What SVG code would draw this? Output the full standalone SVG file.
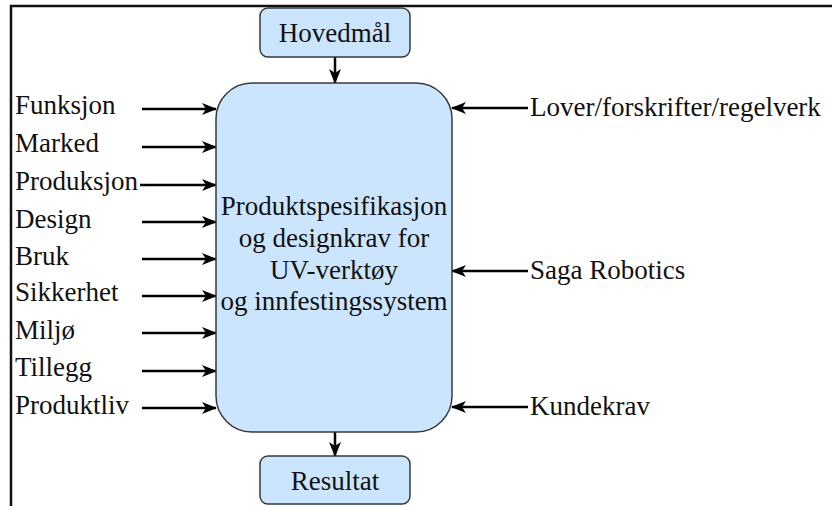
<svg xmlns="http://www.w3.org/2000/svg" width="832" height="506" viewBox="0 0 832 506">
<defs>
<marker id="ah" markerUnits="userSpaceOnUse" markerWidth="15" markerHeight="12" viewBox="0 0 15 12" refX="14" refY="6" orient="auto">
<path d="M0,0 L15,6 L0,12 L4,6 Z" fill="#000"/>
</marker>
</defs>
<style>
.box{fill:#cce5ff;stroke:#36393d;stroke-width:1.5}
.t{font-family:"Liberation Serif","Times New Roman",serif;font-size:27px;fill:#111}
.c{text-anchor:middle}
.e{stroke:#000;stroke-width:2.5;fill:none;marker-end:url(#ah)}
</style>
<rect width="832" height="506" fill="#fff"/>
<path d="M11,506 L11,6 L832,6" fill="none" stroke="#111" stroke-width="2.5"/>
<g id="connectors">
<line class="e" x1="335" y1="57" x2="335" y2="83"/>
<line class="e" x1="335" y1="432" x2="335" y2="456"/>
<line class="e" x1="142" y1="109" x2="216" y2="109"/>
<line class="e" x1="142" y1="147" x2="216" y2="147"/>
<line class="e" x1="140" y1="185" x2="216" y2="185"/>
<line class="e" x1="142" y1="222" x2="216" y2="222"/>
<line class="e" x1="142" y1="259" x2="216" y2="259"/>
<line class="e" x1="142" y1="296" x2="216" y2="296"/>
<line class="e" x1="142" y1="333" x2="216" y2="333"/>
<line class="e" x1="142" y1="371" x2="216" y2="371"/>
<line class="e" x1="142" y1="408" x2="216" y2="408"/>
<line class="e" x1="528" y1="108" x2="452" y2="108"/>
<line class="e" x1="528" y1="271" x2="452" y2="271"/>
<line class="e" x1="528" y1="407" x2="452" y2="407"/>
</g>
<g id="hovedmal">
<rect class="box" x="260" y="8" width="150" height="49" rx="8"/>
<text class="t c" x="335" y="42">Hovedmål</text>
</g>
<g id="main">
<rect class="box" x="216" y="83" width="236" height="349" rx="36"/>
<text class="t c" x="334" y="215">Produktspesifikasjon</text>
<text class="t c" x="334" y="247">og designkrav for</text>
<text class="t c" x="334" y="279">UV-verktøy</text>
<text class="t c" x="334" y="310">og innfestingssystem</text>
</g>
<g id="resultat">
<rect class="box" x="260" y="456" width="150" height="48" rx="8"/>
<text class="t c" x="335" y="490">Resultat</text>
</g>
<g id="labels-left">
<text class="t" x="15" y="114">Funksjon</text>
<text class="t" x="15" y="152">Marked</text>
<text class="t" x="15" y="190">Produksjon</text>
<text class="t" x="15" y="228">Design</text>
<text class="t" x="15" y="265">Bruk</text>
<text class="t" x="15" y="301">Sikkerhet</text>
<text class="t" x="15" y="339">Miljø</text>
<text class="t" x="15" y="376">Tillegg</text>
<text class="t" x="15" y="414">Produktliv</text>
</g>
<g id="labels-right">
<text class="t" x="530" y="116">Lover/forskrifter/regelverk</text>
<text class="t" x="530" y="279">Saga Robotics</text>
<text class="t" x="530" y="415">Kundekrav</text>
</g>
</svg>
